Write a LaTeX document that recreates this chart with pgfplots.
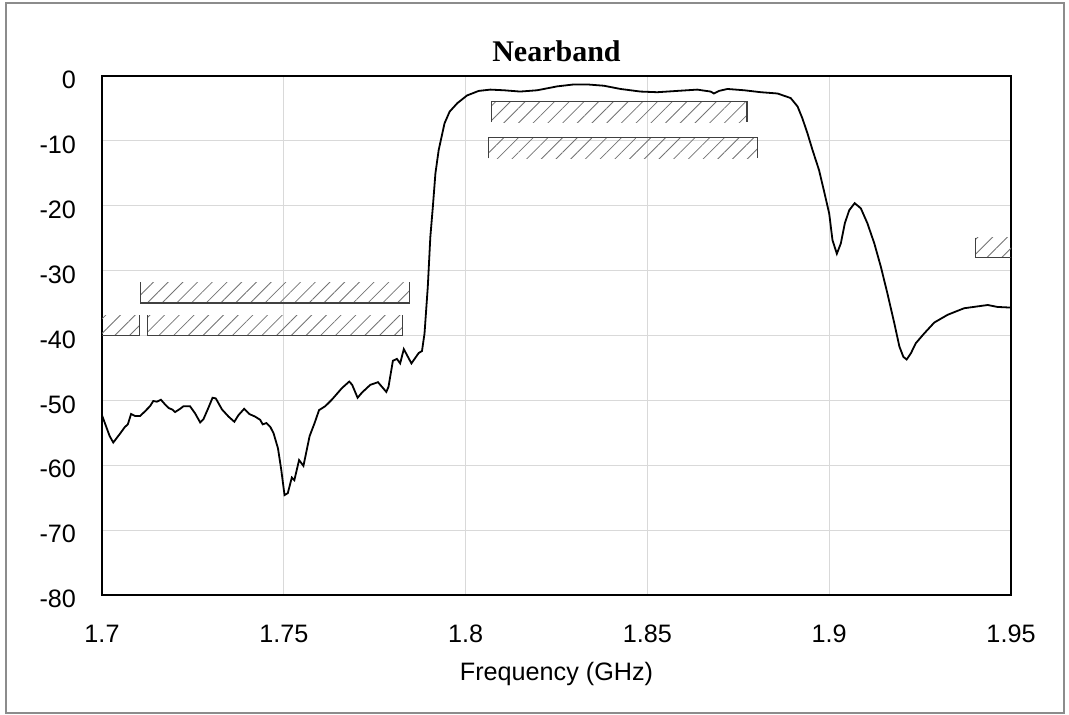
\documentclass[border=0pt]{standalone}
\usepackage{fontspec}
\setmainfont{Liberation Sans}
\newfontfamily\timesfont{Liberation Serif}
\usepackage{pgfplots}
\pgfplotsset{compat=1.18}
\usetikzlibrary{patterns.meta}

\definecolor{gridgray}{HTML}{D9D9D9}
\definecolor{framegray}{HTML}{8C8C8C}

\begin{document}
\begin{tikzpicture}
% page is 1069x715 px at 0.5pt per px
\useasboundingbox (0,0) rectangle (534.5pt,357.5pt);
\draw[framegray, line width=0.6pt] (3pt,1pt) rectangle (532pt,356pt);

\begin{axis}[
    at={(51pt,60pt)}, anchor=south west,
    scale only axis,
    width=454.5pt, height=259.5pt,
    xmin=1.7, xmax=1.95,
    ymin=-80, ymax=0,
    xtick={1.7,1.75,1.8,1.85,1.9,1.95},
    xticklabels={1.7,1.75,1.8,1.85,1.9,1.95},
    ytick={-80,-70,...,0},
    major tick length=0pt,
    grid=major,
    grid style={gridgray, line width=0.6pt},
    axis line style={black, line width=1pt},
    /pgf/number format/assume math mode=true,
    tick label style={font=\fontsize{12.6}{15}\selectfont},
    xticklabel style={yshift=-11.5pt},
    yticklabel style={xshift=-9.5pt, yshift=-2pt},
    xlabel={Frequency (GHz)},
    xlabel style={font=\fontsize{12.6}{15}\selectfont, at={(axis description cs:0.5,0)}, anchor=north, yshift=-30pt},
    title={\timesfont\bfseries Nearband},
    title style={font=\fontsize{15}{18}\selectfont, at={(axis description cs:0.5,1)}, anchor=base, yshift=1pt},
    clip=true,
]

% mask areas (hatched)
\pgfplotsset{hatch/.style={draw=none, forget plot, pattern={Lines[angle=45,distance=5.2pt,line width=0.4pt]}, pattern color=black!55}}
\pgfplotsset{edge/.style={black!75, line width=0.6pt, forget plot}}

\addplot[hatch] coordinates {(1.7106,-35) (1.7845,-35) (1.7845,-31.8) (1.7106,-31.8)};
\addplot[edge] coordinates {(1.7106,-31.8) (1.7106,-35) (1.7845,-35) (1.7845,-31.8)};

\addplot[hatch] coordinates {(1.7,-40) (1.7103,-40) (1.7103,-36.9) (1.7,-36.9)};
\addplot[edge] coordinates {(1.7,-40) (1.7103,-40) (1.7103,-36.9)};

\addplot[hatch] coordinates {(1.7126,-40) (1.7827,-40) (1.7827,-36.9) (1.7126,-36.9)};
\addplot[edge] coordinates {(1.7126,-36.9) (1.7126,-40) (1.7827,-40) (1.7827,-36.9)};

\addplot[hatch] coordinates {(1.8071,-3.9) (1.8774,-3.9) (1.8774,-7.1) (1.8071,-7.1)};
\addplot[edge] coordinates {(1.8071,-7.1) (1.8071,-3.9) (1.8774,-3.9) (1.8774,-7.1)};

\addplot[hatch] coordinates {(1.8063,-9.45) (1.8802,-9.45) (1.8802,-12.7) (1.8063,-12.7)};
\addplot[edge] coordinates {(1.8063,-12.7) (1.8063,-9.45) (1.8802,-9.45) (1.8802,-12.7)};

\addplot[hatch] coordinates {(1.9402,-28) (1.96,-28) (1.96,-24.9) (1.9402,-24.9)};
\addplot[edge] coordinates {(1.9402,-24.9) (1.9402,-28) (1.96,-28)};

% measured response
\addplot[black, line width=0.9pt] coordinates {
(1.7000,-52.3) (1.7021,-55.5) (1.7031,-56.5) (1.7050,-55.1) (1.7063,-54.1)
(1.7071,-53.7) (1.7080,-52.1) (1.7091,-52.4) (1.7105,-52.4) (1.7118,-51.7)
(1.7132,-50.9) (1.7141,-50.1) (1.7151,-50.2) (1.7162,-49.9) (1.7173,-50.6)
(1.7184,-51.2) (1.7193,-51.4) (1.7201,-51.8) (1.7215,-51.3) (1.7224,-50.9)
(1.7242,-50.9) (1.7256,-52.0) (1.7270,-53.4) (1.7279,-52.9) (1.7293,-51.1)
(1.7304,-49.6) (1.7313,-49.7) (1.7330,-51.4) (1.7348,-52.5) (1.7364,-53.3)
(1.7375,-52.3) (1.7391,-51.3) (1.7405,-52.1) (1.7421,-52.5) (1.7435,-53.0)
(1.7442,-53.7) (1.7452,-53.5) (1.7463,-54.1) (1.7472,-55.1) (1.7484,-57.4)
(1.7493,-60.7) (1.7502,-64.6) (1.7511,-64.3) (1.7522,-61.9) (1.7529,-62.3)
(1.7542,-59.2) (1.7554,-60.1) (1.7571,-55.5) (1.7584,-53.6) (1.7597,-51.5)
(1.7614,-50.9) (1.7632,-49.9) (1.7660,-48.1) (1.7680,-47.1) (1.7688,-47.6)
(1.7703,-49.6) (1.7715,-48.8) (1.7738,-47.6) (1.7759,-47.2) (1.7782,-48.7)
(1.7788,-47.9) (1.7800,-43.9) (1.7811,-43.6) (1.7820,-44.3) (1.7830,-42.1)
(1.7851,-44.3) (1.7871,-42.7) (1.7880,-42.4) (1.7887,-39.7) (1.7896,-32.5)
(1.7903,-24.8) (1.7910,-20.1) (1.7917,-15.0) (1.7926,-11.4) (1.7935,-9.1)
(1.7942,-7.3) (1.7956,-5.5) (1.7977,-4.2) (1.8004,-3.0) (1.8036,-2.3)
(1.8068,-2.1) (1.8105,-2.2) (1.8150,-2.4) (1.8197,-2.2) (1.8252,-1.6)
(1.8298,-1.3) (1.8334,-1.3) (1.8380,-1.5) (1.8426,-2.0) (1.8481,-2.4)
(1.8527,-2.5) (1.8582,-2.3) (1.8637,-2.1) (1.8674,-2.4) (1.8683,-2.7)
(1.8697,-2.3) (1.8720,-2.0) (1.8766,-2.2) (1.8812,-2.5) (1.8858,-2.7)
(1.8894,-3.4) (1.8913,-4.7) (1.8926,-6.5) (1.8940,-8.8) (1.8954,-11.4)
(1.8972,-14.5) (1.8986,-17.8) (1.9000,-21.2) (1.9009,-25.3) (1.9021,-27.4)
(1.9032,-25.8) (1.9043,-22.7) (1.9055,-20.7) (1.9070,-19.6) (1.9087,-20.4)
(1.9105,-22.7) (1.9124,-25.8) (1.9142,-29.4) (1.9160,-33.5) (1.9179,-38.1)
(1.9193,-41.7) (1.9204,-43.3) (1.9213,-43.7) (1.9225,-42.7) (1.9238,-41.2)
(1.9261,-39.7) (1.9289,-38.0) (1.9326,-36.8) (1.9371,-35.8) (1.9436,-35.3)
(1.9463,-35.6) (1.9500,-35.7)
};

\end{axis}
\end{tikzpicture}
\end{document}
